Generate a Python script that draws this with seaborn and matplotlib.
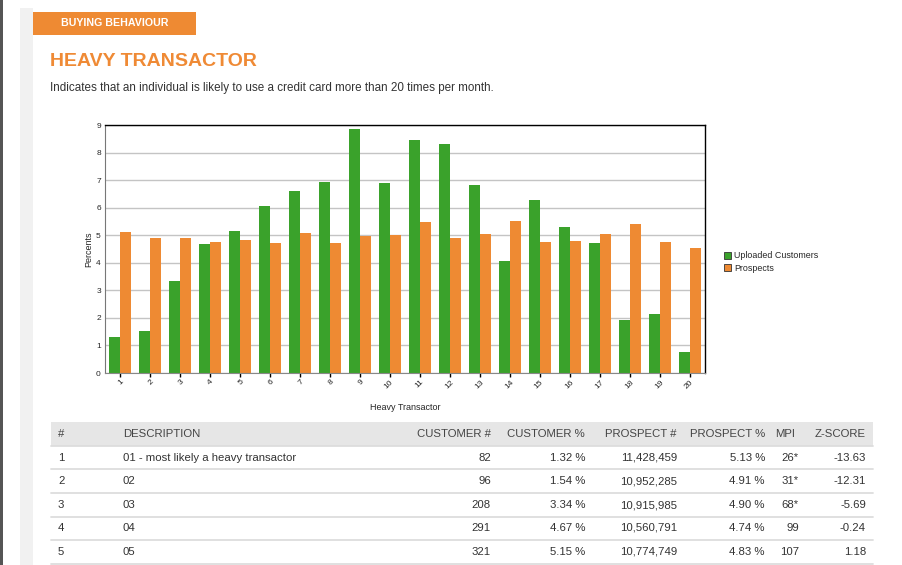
import numpy as np
import pandas as pd
import matplotlib
matplotlib.use('Agg')
import matplotlib.pyplot as plt
from matplotlib.patches import Rectangle
from matplotlib.lines import Line2D
import seaborn as sns

# chart data
groups = [str(i) for i in range(1, 21)]
customers = [1.32, 1.54, 3.34, 4.67, 5.15, 6.06, 6.60, 6.93, 8.85, 6.89,
             8.45, 8.31, 6.82, 4.07, 6.28, 5.30, 4.71, 1.91, 2.15, 0.77]
prospects = [5.13, 4.91, 4.90, 4.74, 4.83, 4.71, 5.08, 4.71, 4.97, 5.01,
             5.48, 4.90, 5.04, 5.52, 4.75, 4.79, 5.04, 5.41, 4.75, 4.53]
series_names = ['Uploaded Customers', 'Prospects']

# table data
tbl_headers = ['#', 'DESCRIPTION', 'CUSTOMER #', 'CUSTOMER %', 'PROSPECT #',
               'PROSPECT %', 'MPI', 'Z-SCORE']
tbl_num = ['1', '2', '3', '4', '5']
tbl_desc = ['01 - most likely a heavy transactor', '02', '03', '04', '05']
tbl_cust = ['82', '96', '208', '291', '321']
tbl_cust_pct = ['1.32 %', '1.54 %', '3.34 %', '4.67 %', '5.15 %']
tbl_prosp = ['11,428,459', '10,952,285', '10,915,985', '10,560,791', '10,774,749']
tbl_prosp_pct = ['5.13 %', '4.91 %', '4.90 %', '4.74 %', '4.83 %']
tbl_mpi = ['26*', '31*', '68*', '99', '107']
tbl_z = ['-13.63', '-12.31', '-5.69', '-0.24', '1.18']

GREEN = '#3aa22b'
ORANGE = '#ee8a33'
W, H = 903, 565

df = pd.DataFrame({
    'group': groups * 2,
    'value': customers + prospects,
    'series': [series_names[0]] * len(groups) + [series_names[1]] * len(groups),
})

sns.set_style('white')
plt.rcParams['font.family'] = ['Liberation Sans', 'DejaVu Sans']

fig = plt.figure(figsize=(W / 100, H / 100), dpi=100)


def fx(x):
    return x / W


def fy(y):
    return 1 - y / H


# page decoration
fig.add_artist(Rectangle((0, 0), fx(3), 1, transform=fig.transFigure,
                         color='#555555', lw=0))
fig.add_artist(Rectangle((fx(20), 0), fx(13), fy(8), transform=fig.transFigure,
                         color='#f1f1f1', lw=0))
fig.add_artist(Rectangle((fx(33), fy(35)), fx(163), fy(12) - fy(35),
                         transform=fig.transFigure, color=ORANGE, lw=0))
fig.text(fx(115), fy(23), 'BUYING BEHAVIOUR', color='white', fontsize=7.7,
         fontweight='bold', ha='center', va='center')
fig.text(fx(50), fy(61), 'HEAVY TRANSACTOR', color='#ef8a35', fontsize=14,
         fontweight='bold', ha='left', va='center')
fig.text(fx(50), fy(88),
         'Indicates that an individual is likely to use a credit card more than 20 times per month.',
         color='#333333', fontsize=8.4, ha='left', va='center')

# chart
ax = fig.add_axes([fx(105), fy(373), fx(705) - fx(105), fy(125) - fy(373)])
sns.barplot(data=df, x='group', y='value', hue='series', order=groups,
            hue_order=series_names, palette=[GREEN, ORANGE], width=0.74,
            gap=0, linewidth=0, saturation=1, ax=ax)
ax.set_ylim(0, 9)
ax.set_xlim(-0.5, len(groups) - 0.5)
ax.set_yticks(range(0, 10))
ax.set_axisbelow(True)
ax.yaxis.grid(True, color='#c4c4c4', lw=1)
ax.xaxis.grid(False)
ax.tick_params(axis='y', labelsize=6, length=0, pad=3)
ax.tick_params(axis='x', labelsize=6, length=3, width=1, color='black',
               direction='out', bottom=True, pad=1)
plt.setp(ax.get_xticklabels(), rotation=45, ha='right', rotation_mode='anchor')
ax.set_xlabel('Heavy Transactor', fontsize=6.5, labelpad=9)
ax.set_ylabel('Percents', fontsize=6.5, labelpad=2)
for side in ['top', 'right']:
    ax.spines[side].set_color('black')
    ax.spines[side].set_linewidth(1)
ax.spines['left'].set_color('#777777')
ax.spines['bottom'].set_color('#888888')

handles = [Rectangle((0, 0), 1, 1, facecolor=GREEN, edgecolor='#333333', lw=0.6),
           Rectangle((0, 0), 1, 1, facecolor=ORANGE, edgecolor='#333333', lw=0.6)]
ax.legend(handles, series_names, loc='center left',
          bbox_to_anchor=(fx(716), fy(262)), bbox_transform=fig.transFigure,
          frameon=False, fontsize=6.4, handlelength=0.8, handleheight=0.8,
          handletextpad=0.3, labelspacing=0.35)

# table
fig.add_artist(Rectangle((fx(51), fy(446)), fx(873) - fx(51), fy(422) - fy(446),
                         transform=fig.transFigure, color='#e6e6e6', lw=0))
for yl in [446, 469, 493, 517, 540, 564]:
    fig.add_artist(Line2D([fx(51), fx(873)], [fy(yl), fy(yl)],
                          transform=fig.transFigure, color='#dddddd', lw=1.3))

col_x = [58, 123, 491, 585, 677, 765, 799, 866]
col_ha = ['left', 'left', 'right', 'right', 'right', 'right', 'right', 'right']
head_x = [58, 123, 491, 585, 677, 765, 795, 866]
for x, ha, h in zip(head_x, col_ha, tbl_headers):
    fig.text(fx(x), fy(434), h, fontsize=8.2, color='#444444', ha=ha, va='center')

columns = [tbl_num, tbl_desc, tbl_cust, tbl_cust_pct, tbl_prosp,
           tbl_prosp_pct, tbl_mpi, tbl_z]
row_y = [458, 481, 505, 528, 552]
for x, ha, col in zip(col_x, col_ha, columns):
    for y, val in zip(row_y, col):
        fig.text(fx(x), fy(y), val, fontsize=8.2, color='#333333', ha=ha, va='center')

fig.savefig('out.png', dpi=100)
